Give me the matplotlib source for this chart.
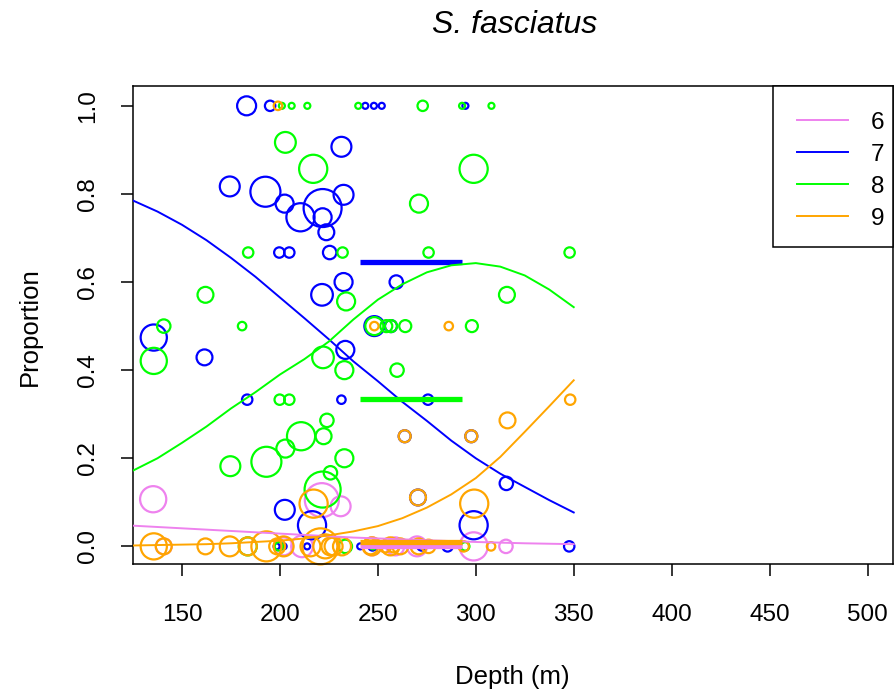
import numpy as np
import matplotlib.pyplot as plt
from matplotlib.patches import Rectangle

plt.rcParams['font.family'] = ['Liberation Sans', 'DejaVu Sans']

# Observed proportions by depth: x = depth (m), p = proportion, n = fish in haul
x6 = [135.3, 221.4, 231.0, 140.7, 201.9, 211.3, 247.0, 258.9, 270.0, 298.9, 315.4]
p6 = [0.107, 0.105, 0.091, 0, 0, 0, 0, 0, 0, 0, 0]
n6 = [19, 32, 11, 7, 9, 13, 9, 9, 11, 22, 5]

x7 = [183.0, 195.0, 243.6, 248.0, 252.0, 294.7, 231.4, 174.4, 192.6, 232.5,
      202.4, 210.5, 221.8, 221.8, 223.7, 199.7, 204.8, 225.4, 232.5, 221.5,
      259.4, 135.6, 161.5, 233.4, 248.2, 256.7, 183.3, 231.4, 275.6, 263.7,
      297.7, 270.5, 315.6, 202.5, 216.4, 298.9,
      198.3, 201.9, 213.9, 241.0, 247.3, 272.3, 285.6, 347.7]
p7 = [1.0, 1.0, 1.0, 1.0, 1.0, 1.0, 0.907, 0.817, 0.805, 0.798,
      0.778, 0.747, 0.768, 0.747, 0.713, 0.667, 0.667, 0.667, 0.6, 0.571,
      0.6, 0.474, 0.429, 0.446, 0.5, 0.5, 0.333, 0.333, 0.333, 0.25,
      0.25, 0.111, 0.143, 0.083, 0.048, 0.048,
      0, 0, 0, 0, 0, 0, 0, 0]
n7 = [10, 3, 1, 1, 1, 1, 11, 11, 25, 11,
      9, 22, 40, 9, 7, 3, 3, 5, 9, 13,
      5, 19, 7, 9, 11, 4, 3, 2, 3, 4,
      4, 7, 5, 11, 22, 22,
      1, 1, 1, 1, 2, 2, 3, 3]

x8 = [201.0, 206.0, 214.0, 240.0, 272.9, 293.0, 308.0, 202.8, 217.0, 298.9,
      271.0, 183.8, 232.0, 275.9, 347.9, 233.8, 162.0, 315.9, 140.7, 135.6,
      180.7, 222.0, 232.9, 248.2, 254.3, 256.7, 264.0, 298.0, 259.8, 199.9,
      204.8, 224.0, 210.8, 222.3, 202.8, 232.9, 193.1, 174.7, 225.8, 221.8,
      183.6, 199.5, 233.4, 247.5, 294.6]
p8 = [1.0, 1.0, 1.0, 1.0, 1.0, 1.0, 1.0, 0.917, 0.857, 0.857,
      0.778, 0.667, 0.667, 0.667, 0.667, 0.556, 0.571, 0.571, 0.5, 0.421,
      0.5, 0.429, 0.4, 0.5, 0.5, 0.5, 0.5, 0.5, 0.4, 0.333,
      0.333, 0.286, 0.25, 0.25, 0.222, 0.2, 0.192, 0.182, 0.167, 0.129,
      0, 0, 0, 0, 0]
n8 = [1, 1, 1, 1, 3, 1, 1, 12, 22, 22,
      9, 3, 3, 3, 3, 9, 7, 7, 5, 19,
      2, 13, 9, 9, 4, 4, 4, 4, 5, 3,
      3, 5, 22, 7, 9, 9, 25, 11, 5, 36,
      9, 2, 5, 1, 2]

x9 = [199.0, 248.2, 286.2, 263.7, 297.7, 316.2, 348.2, 270.5, 299.2, 217.2,
      135.6, 140.7, 162.0, 174.4, 183.6, 193.1, 198.6, 201.9, 215.6, 220.7,
      223.2, 225.8, 227.4, 231.7, 246.2, 247.0, 253.8, 256.4, 257.9, 261.5,
      270.8, 275.9, 293.8, 307.8]
p9 = [1.0, 0.5, 0.5, 0.25, 0.25, 0.286, 0.333, 0.111, 0.097, 0.097,
      0, 0, 0, 0, 0, 0, 0, 0, 0, 0,
      0, 0, 0, 0, 0, 0, 0, 0, 0, 0,
      0, 0, 0, 0]
n9 = [2, 2, 2, 4, 4, 7, 3, 7, 22, 22,
      19, 7, 7, 11, 9, 25, 7, 11, 11, 36,
      16, 9, 9, 9, 7, 9, 4, 9, 4, 7,
      7, 5, 3, 2]

# Fitted proportion curves, sampled every 12.5 m
depth_fit = [125, 137.5, 150, 162.5, 175, 187.5, 200, 212.5, 225, 237.5,
             250, 262.5, 275, 287.5, 300, 312.5, 325, 337.5, 350]
fit6 = [0.047, 0.044, 0.041, 0.038, 0.035, 0.032, 0.029, 0.026, 0.023, 0.020,
        0.018, 0.016, 0.014, 0.012, 0.010, 0.0085, 0.007, 0.006, 0.005]
fit7 = [0.785, 0.760, 0.730, 0.695, 0.655, 0.612, 0.565, 0.518, 0.470, 0.420,
        0.375, 0.328, 0.285, 0.240, 0.200, 0.165, 0.135, 0.105, 0.077]
fit8 = [0.172, 0.200, 0.235, 0.272, 0.313, 0.350, 0.390, 0.425, 0.465, 0.515,
        0.560, 0.595, 0.622, 0.638, 0.643, 0.635, 0.615, 0.583, 0.543]
fit9 = [0.002, 0.003, 0.004, 0.005, 0.007, 0.010, 0.013, 0.018, 0.025, 0.034,
        0.046, 0.064, 0.088, 0.118, 0.155, 0.203, 0.260, 0.318, 0.377]

# Mean proportion over the core depth range
core_range = [241, 293]
mean6, mean7, mean8, mean9 = 0.0, 0.645, 0.335, 0.011

labels = ['6', '7', '8', '9']
colors = ['violet', 'blue', '#00ff00', 'orange']

fig = plt.figure(figsize=(8.96, 6.91), dpi=100)
ax = fig.add_axes([133 / 896, 127 / 691, 760 / 896, 478 / 691])

groups = [(x6, p6, n6, fit6, mean6), (x7, p7, n7, fit7, mean7),
          (x8, p8, n8, fit8, mean8), (x9, p9, n9, fit9, mean9)]
for (xs, ps, ns, fit, m), col, lab in zip(groups, colors, labels):
    ax.scatter(xs, ps, s=np.array(ns) * 18.7, facecolors='none',
               edgecolors=col, linewidths=1.6, zorder=2, clip_on=False)
    ax.plot(depth_fit, fit, color=col, lw=1.4, label=lab, zorder=3)
    ax.plot(core_range, [m, m], color=col, lw=3.8, solid_capstyle='butt', zorder=3)

ax.set_xlim(125, 513)
ax.set_ylim(-0.04, 1.045)
ax.set_xticks([150, 200, 250, 300, 350, 400, 450, 500])
ax.set_yticks([0.0, 0.2, 0.4, 0.6, 0.8, 1.0])
ax.set_yticklabels(['0.0', '0.2', '0.4', '0.6', '0.8', '1.0'])
ax.tick_params(axis='both', length=8.6, width=1.1, labelsize=17.5, direction='out')
ax.tick_params(axis='x', pad=20)
ax.tick_params(axis='y', pad=16, labelrotation=90)
for lbl in ax.get_yticklabels():
    lbl.set_va('center')
for sp in ax.spines.values():
    sp.set_linewidth(1.1)

# legend box flush with the top right corner of the plot frame
ax.add_patch(Rectangle((640 / 760, 317 / 478), 120 / 760, 161 / 478,
                       transform=ax.transAxes, facecolor='white',
                       edgecolor='black', lw=1.1, zorder=4, clip_on=False))
leg = ax.legend(loc='upper left', bbox_to_anchor=(664 / 760, 0.946),
                borderaxespad=0, borderpad=0, frameon=False, fontsize=17.5,
                handlelength=2.1, handletextpad=0.95, labelspacing=0.41)
leg.set_zorder(5)

fig.text(515 / 896, 1 - 25 / 691, 'S. fasciatus', fontsize=23, style='italic',
         ha='center', va='center')
fig.text(512 / 896, 1 - 677 / 691, 'Depth (m)', fontsize=18.5, ha='center', va='center')
fig.text(30 / 896, 1 - 327 / 691, 'Proportion', fontsize=18.5, ha='center',
         va='center', rotation=90)

fig.savefig('out.png', dpi=100)
